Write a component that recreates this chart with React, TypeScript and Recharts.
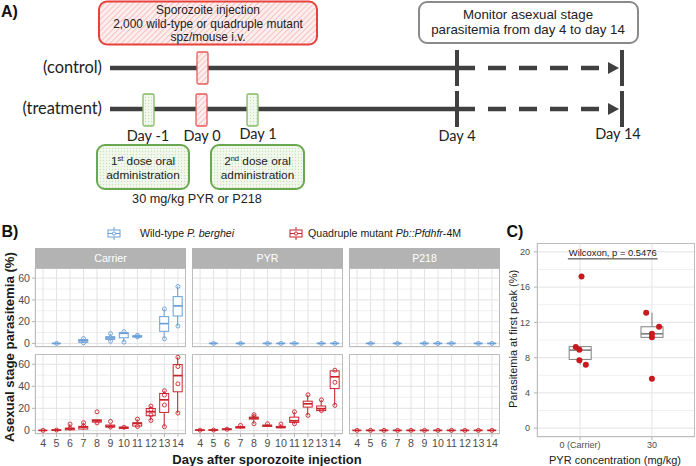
import React from 'react';
import { ComposedChart, Bar, Scatter, XAxis, YAxis, CartesianGrid, ReferenceLine } from 'recharts';

// ---- panel B data ----
const DAYS = [4, 5, 6, 7, 8, 9, 10, 11, 12, 13, 14];
const FACETS = ['Carrier', 'PYR', 'P218'];
const B_TICKS = [0, 20, 40, 60];
const B_MINOR = [10, 30, 50];

// box stats per day: [min, q1, median, q3, max], null = no box drawn
const carrierWT = [null, [0, 0, 0, 0, 0], null, [0.5, 1, 2.5, 3.5, 4.5], null, [2, 3.7, 5, 6.2, 9], [1.2, 5.2, 9.3, 9.8, 10.8], [5.5, 5.8, 6.5, 7, 7.5], null, [4.3, 11.1, 18.2, 24.6, 31.7], [16, 25.2, 34.5, 43, 52.3]];
const carrierWTPts = [[5, 0], [7, 4.5], [7, 0.5], [9, 9], [9, 2], [10, 10.8], [10, 1.2], [11, 7.5], [11, 6], [13, 31.7], [13, 4.3], [14, 52.3], [14, 16]];

const carrierMut = [[0, 0, 0, 0, 0.3], [0, 0, 0.3, 0.5, 0.8], [0.3, 0.5, 1.5, 2, 5.7], [0.5, 1.2, 3, 3.6, 7], [6.5, 7.5, 8.7, 9.6, 9.8], [2.5, 3, 3.6, 4.8, 5], [1.5, 1.8, 2.4, 3, 3.2], [3, 3.9, 6.3, 6.9, 10.2], [9, 13.3, 16.9, 19.9, 22], [3.3, 16.3, 27.7, 33.5, 36], [15.7, 35, 49.7, 59.7, 66.3]];
const carrierMutPts = [[4, 0], [5, 0.3], [6, 5.7], [6, 2], [7, 7], [7, 4], [8, 16.9], [8, 6.8], [9, 8.1], [9, 3], [10, 2.8], [11, 10.2], [11, 3.5], [12, 22], [12, 19], [12, 14], [12, 9], [13, 36], [13, 32], [13, 23], [13, 3.3], [14, 66.3], [14, 57.9], [14, 42.2], [14, 15.7]];

const pyrWT = [null, [0, 0, 0, 0, 0], null, [0, 0, 0, 0, 0], null, [0, 0, 0, 0, 0], [0, 0, 0, 0, 0], [0, 0, 0, 0, 0], null, [0, 0, 0, 0, 0], [0, 0, 0, 0, 0]];
const pyrWTPts = [[5, 0], [7, 0], [9, 0], [10, 0], [11, 0], [13, 0], [14, 0]];

const pyrMut = [[0, 0, 0.2, 0.3, 0.5], [0, 0.1, 0.3, 0.5, 0.7], [0.4, 0.7, 1, 1.3, 1.8], [1.5, 2.2, 2.7, 3.4, 4.5], [6, 10.2, 11.2, 12, 14.2], [3, 3.6, 4.2, 4.8, 6], [2, 2.4, 2.7, 3.6, 5.7], [5.7, 7.2, 8.7, 12, 16.9], [13.6, 21.1, 24.1, 26.5, 32.3], [17.5, 17.9, 19.7, 22.1, 27.7], [22.7, 37.9, 48.6, 54, 54.6]];
const pyrMutPts = [[4, 0.2], [5, 0.3], [6, 1], [7, 4.5], [8, 14.2], [8, 12.5], [8, 6], [9, 6], [10, 5.7], [11, 16.9], [11, 6], [12, 32.3], [12, 13.6], [13, 27.7], [13, 18], [14, 54.6], [14, 43.6], [14, 22.7]];

const p218WT = [null, [0, 0, 0, 0, 0], null, [0, 0, 0, 0, 0], null, [0, 0, 0, 0, 0], [0, 0, 0, 0, 0], [0, 0, 0, 0, 0], null, [0, 0, 0, 0, 0], [0, 0, 0, 0, 0]];
const p218WTPts = [[5, 0], [7, 0], [9, 0], [10, 0], [11, 0], [13, 0], [14, 0]];

const p218Mut = [[0, 0, 0, 0, 0], [0, 0, 0, 0, 0], [0, 0, 0, 0, 0], [0, 0, 0, 0, 0], [0, 0, 0, 0, 0], [0, 0, 0, 0, 0], [0, 0, 0, 0, 0], [0, 0, 0, 0, 0], [0, 0, 0, 0, 0], [0, 0, 0, 0, 0], [0, 0, 0, 0, 0]];
const p218MutPts = [[4, 0], [5, 0], [6, 0], [7, 0], [8, 0], [9, 0], [10, 0], [11, 0], [12, 0], [13, 0], [14, 0]];

// ---- panel C data ----
const C_GROUPS = ['0 (Carrier)', '30'];
const C_TICKS = [0, 4, 8, 12, 16, 20];
const C_MINOR = [2, 6, 10, 14, 18];
const cBoxes = [[7.2, 7.8, 8.85, 9.25, 9.25], [10.3, 10.3, 10.7, 11.5, 13.1]];
const carrierPeak = [17.2, 9.2, 8.9, 7.7, 7.2];
const carrierJitter = [0.02, -0.06, -0.01, -0.01, 0.08];
const pyr30Peak = [13.1, 11.5, 10.7, 10.3, 5.6];
const pyr30Jitter = [-0.08, 0.1, 0, 0, 0];

const BLUE = '#6a9fd8';
const RED = '#c8232b';
const ARIAL = '"Liberation Sans", Arial, sans-serif';
const CAL = 'Lato, "Open Sans", sans-serif';
const PANEL_W = 151;
const COL_LEFT = [35, 192, 349];

const boxRange = (r: any) => (r && r.s ? [r.s[0], r.s[4]] : null);

const boxShape = (color: string, medW: number) => (p: any) => {
  const s: number[] | undefined = p?.payload?.s;
  if (!s || p.x == null || p.y == null) return <g />;
  const [mn, q1, md, q3, mx] = s;
  const hh = p.height || 0;
  const top = Math.min(p.y, p.y + hh);
  const h = Math.abs(hh);
  const span = mx - mn;
  const py = (v: number) => (span > 0 ? top + (h * (mx - v)) / span : top);
  const cx = p.x + p.width / 2;
  return (
    <g>
      <line x1={cx} x2={cx} y1={py(mx)} y2={py(q3)} stroke={color} />
      <line x1={cx} x2={cx} y1={py(q1)} y2={py(mn)} stroke={color} />
      <rect x={p.x} y={py(q3)} width={p.width} height={Math.max(py(q1) - py(q3), 0)} fill="#fff" stroke={color} />
      <line x1={p.x} x2={p.x + p.width} y1={py(md)} y2={py(md)} stroke={color} strokeWidth={medW} />
    </g>
  );
};

const ringShape = (color: string) => (p: any) => (
  <circle cx={p.cx} cy={p.cy} r={2} fill="none" stroke={color} strokeWidth={0.9} />
);
const dotShape = (color: string) => (p: any) => <circle cx={p.cx} cy={p.cy} r={3} fill={color} />;

function Txt({ x, y, children, size = 11, bold = false, color = '#1a1a1a', rotate = false, anchor = 'middle', family = ARIAL }: any) {
  const tx = anchor === 'middle' ? '-50%' : anchor === 'end' ? '-100%' : '0';
  return (
    <div
      style={{
        position: 'absolute', left: x, top: y, whiteSpace: 'nowrap', lineHeight: 1,
        transform: `translate(${tx}, -50%)${rotate ? ' rotate(-90deg)' : ''}`,
        fontSize: size, fontWeight: bold ? 'bold' : 'normal', color, fontFamily: family,
      }}
    >
      {children}
    </div>
  );
}

function Facet({ stats, pts, color, left, top, h, showY, showX }: any) {
  const rows = DAYS.map((day, i) => ({ day, s: stats[i] })).filter((r) => r.s);
  const dots = pts.map(([day, v]: number[]) => ({ day, v }));
  const yW = showY ? 35 : 0;
  const xH = showX ? 22 : 0;
  const padB = showX ? 0 : 6; // room so the bottom tick label is not clipped
  return (
    <div style={{ position: 'absolute', left: left - yW, top }}>
      <ComposedChart width={PANEL_W + yW} height={h + xH + padB} data={rows} margin={{ top: 0, right: 0, bottom: padB, left: 0 }}>
        <CartesianGrid horizontalValues={B_MINOR} vertical={false} stroke="#f0f0f0" />
        <CartesianGrid stroke="#e3e3e3" />
        <XAxis type="number" dataKey="day" domain={[3.4, 14.6]} ticks={DAYS} interval={0} hide={!showX} height={xH}
          tickSize={3} tickMargin={2} axisLine={false} tickLine={{ stroke: '#b3b3b3' }}
          tick={{ fill: '#4d4d4d', fontSize: 10.6, fontFamily: ARIAL }} />
        <YAxis type="number" domain={[-3.3, 69.3]} ticks={B_TICKS} interval={0} hide={!showY} width={yW}
          tickSize={3} tickMargin={2} axisLine={false} tickLine={{ stroke: '#b3b3b3' }}
          tick={{ fill: '#4d4d4d', fontSize: 10.6, fontFamily: ARIAL }} />
        <Bar dataKey={boxRange} barSize={9} shape={boxShape(color, 1.7)} isAnimationActive={false} />
        <Scatter data={dots} dataKey="v" shape={ringShape(color)} isAnimationActive={false} />
      </ComposedChart>
      <div style={{ position: 'absolute', left: yW, top: 0, width: PANEL_W, height: h, border: '1px solid #bdbdbd', boxSizing: 'border-box', pointerEvents: 'none' }} />
    </div>
  );
}

function Glyph({ color, left }: any) {
  return (
    <svg width={14} height={13} style={{ position: 'absolute', left, top: 227 }}>
      <line x1={7} x2={7} y1={0} y2={13} stroke={color} />
      <rect x={1} y={3} width={12} height={7} fill="#fff" stroke={color} />
      <line x1={1} x2={13} y1={6.5} y2={6.5} stroke={color} />
      <circle cx={7} cy={6.5} r={1.6} fill="#fff" stroke={color} />
    </svg>
  );
}

function PanelA() {
  const dark = '#404040';
  const small = [
    { x: 197, y: 52, c: 'r' },
    { x: 143, y: 94, c: 'g' },
    { x: 196, y: 94, c: 'r' },
    { x: 247, y: 94, c: 'g' },
  ];
  return (
    <svg width={696} height={215} style={{ position: 'absolute', left: 0, top: 0 }} fontFamily={ARIAL} fill="#222">
      <defs>
        <pattern id="hatchR" width="4" height="4" patternUnits="userSpaceOnUse" patternTransform="rotate(45)">
          <rect width="4" height="4" fill="#fdeeee" />
          <line x1="0" y1="0" x2="0" y2="4" stroke="#f4b7b7" strokeWidth="1.6" />
        </pattern>
        <pattern id="dotG" width="3" height="3" patternUnits="userSpaceOnUse">
          <rect width="3" height="3" fill="#f2f8ee" />
          <circle cx="1.5" cy="1.5" r="0.7" fill="#c9e2b8" />
        </pattern>
      </defs>
      <text x={1} y={17} fontSize={16} fontWeight="bold" fill="#111">A)</text>

      <rect x={99} y={1.5} width={218} height={43} rx={8} fill="url(#hatchR)" stroke="#e8403a" strokeWidth={2} />
      <text textAnchor="middle" fontSize={11.9}>
        <tspan x={208} y={13.5}>Sporozoite injection</tspan>
        <tspan x={208} y={27.5}>2,000 wild-type or quadruple mutant</tspan>
        <tspan x={208} y={41}>spz/mouse i.v.</tspan>
      </text>

      <rect x={419} y={2} width={219} height={41} rx={8} fill="#fff" stroke="#8a8a8a" strokeWidth={2} />
      <text textAnchor="middle" fontSize={13.3}>
        <tspan x={528} y={18.5}>Monitor asexual stage</tspan>
        <tspan x={528} y={34}>parasitemia from day 4 to day 14</tspan>
      </text>

      <text x={102} y={73} textAnchor="end" fontSize={16.4} fontFamily={CAL}>(control)</text>
      <text x={102} y={114} textAnchor="end" fontSize={16.4} fontFamily={CAL}>(treatment)</text>

      {[68, 109].map((y) => (
        <g key={y}>
          <line x1={110} x2={475} y1={y} y2={y} stroke={dark} strokeWidth={4.5} />
          <line x1={488} x2={600} y1={y} y2={y} stroke={dark} strokeWidth={4.5} strokeDasharray="18 13" />
          <polygon points={`608,${y - 6} 608,${y + 6} 619,${y}`} fill={dark} />
          <line x1={457} x2={457} y1={y - 18} y2={y + 18} stroke={dark} strokeWidth={4} />
          <line x1={622} x2={622} y1={y - 18} y2={y + 18} stroke={dark} strokeWidth={4} />
        </g>
      ))}

      {small.map((r, i) => (
        <rect key={i} x={r.x} y={r.y} width={11} height={32} rx={1.5}
          fill={r.c === 'r' ? 'url(#hatchR)' : 'url(#dotG)'} stroke={r.c === 'r' ? '#e85a5a' : '#86bb62'} strokeWidth={1.3} />
      ))}

      <g fontFamily={CAL} fontSize={14.5} textAnchor="middle">
        <text x={148} y={141}>Day -1</text>
        <text x={202} y={141}>Day 0</text>
        <text x={258} y={139}>Day 1</text>
        <text x={457} y={141}>Day 4</text>
        <text x={618} y={139}>Day 14</text>
      </g>

      <rect x={97} y={145} width={92} height={44} rx={8} fill="url(#dotG)" stroke="#6aa84f" strokeWidth={2} />
      <rect x={211} y={145} width={93} height={44} rx={8} fill="url(#dotG)" stroke="#6aa84f" strokeWidth={2} />
      <text textAnchor="middle" fontSize={11.8}>
        <tspan x={143} y={164.5}>1<tspan fontSize={7.5} dy={-4}>st</tspan><tspan dy={4}> dose oral</tspan></tspan>
        <tspan x={143} y={178.5}>administration</tspan>
        <tspan x={257.5} y={164.5}>2<tspan fontSize={7.5} dy={-4}>nd</tspan><tspan dy={4}> dose oral</tspan></tspan>
        <tspan x={257.5} y={178.5}>administration</tspan>
      </text>
      <text x={197} y={203} textAnchor="middle" fontSize={12.7}>30 mg/kg PYR or P218</text>
    </svg>
  );
}

function PanelB() {
  const sets = [
    [carrierWT, carrierWTPts, carrierMut, carrierMutPts],
    [pyrWT, pyrWTPts, pyrMut, pyrMutPts],
    [p218WT, p218WTPts, p218Mut, p218MutPts],
  ];
  return (
    <>
      <Txt x={10} y={232} size={16} bold color="#111">B)</Txt>
      <Glyph color={BLUE} left={107} />
      <Txt x={140} y={233} anchor="start" size={10.6}>Wild-type <i>P. berghei</i></Txt>
      <Glyph color={RED} left={289} />
      <Txt x={308} y={233} anchor="start" size={10.6}>Quadruple mutant <i>Pb::Pfdhfr</i>-4M</Txt>

      {FACETS.map((f, i) => (
        <div key={f} style={{ position: 'absolute', left: COL_LEFT[i], top: 248, width: PANEL_W, height: 20, background: '#b3b3b3', color: '#fff', fontSize: 10.6, fontFamily: ARIAL, display: 'flex', alignItems: 'center', justifyContent: 'center' }}>
          {f}
        </div>
      ))}
      {sets.map((s, i) => (
        <React.Fragment key={i}>
          <Facet stats={s[0]} pts={s[1]} color={BLUE} left={COL_LEFT[i]} top={268} h={79} showY={i === 0} showX={false} />
          <Facet stats={s[2]} pts={s[3]} color={RED} left={COL_LEFT[i]} top={354} h={80} showY={i === 0} showX={true} />
        </React.Fragment>
      ))}
      <Txt x={10} y={347} size={13.2} bold rotate>Asexual stage parasitemia (%)</Txt>
      <Txt x={267} y={458.5} size={13} bold>Days after sporozoite injection</Txt>
    </>
  );
}

function PanelC() {
  const rows = cBoxes.map((s, i) => ({ g: i + 1, s }));
  const dots = [
    ...carrierPeak.map((v, i) => ({ g: 1 + carrierJitter[i], v })),
    ...pyr30Peak.map((v, i) => ({ g: 2 + pyr30Jitter[i], v })),
  ];
  return (
    <>
      <Txt x={515} y={232} size={16} bold color="#111">C)</Txt>
      <div style={{ position: 'absolute', left: 502, top: 243 }}>
        <ComposedChart width={193} height={208} data={rows} margin={{ top: 0, right: 0, bottom: 0, left: 0 }}>
          <CartesianGrid horizontalValues={C_MINOR} vertical={false} stroke="#f0f0f0" />
          <CartesianGrid stroke="#e3e3e3" />
          <XAxis type="number" dataKey="g" domain={[0.4, 2.6]} ticks={[1, 2]} interval={0} height={14}
            tickFormatter={(v: number) => C_GROUPS[Math.round(v) - 1] ?? ''} tickSize={3} tickMargin={2} axisLine={false}
            tickLine={{ stroke: '#b3b3b3' }} tick={{ fill: '#4d4d4d', fontSize: 9, fontFamily: ARIAL }} />
          {/* separate hidden axis for the jittered points so they don't shrink the box width */}
          <XAxis xAxisId="jit" type="number" dataKey="g" domain={[0.4, 2.6]} hide />
          <YAxis type="number" domain={[-1, 21]} ticks={C_TICKS} interval={0} width={35}
            tickSize={3} tickMargin={4} axisLine={false} tickLine={{ stroke: '#b3b3b3' }}
            tick={{ fill: '#4d4d4d', fontSize: 9, fontFamily: ARIAL }} />
          <Bar dataKey={boxRange} barSize={22} shape={boxShape('#7f7f7f', 1.6)} isAnimationActive={false} />
          <Scatter xAxisId="jit" data={dots} dataKey="v" shape={dotShape('#c8191f')} isAnimationActive={false} />
          <ReferenceLine segment={[{ x: 0.83, y: 19.2 }, { x: 2.08, y: 19.2 }]} stroke="#333"
            label={{ value: 'Wilcoxon, p = 0.5476', position: 'top', offset: 3, fontSize: 9.4, fill: '#222', fontFamily: ARIAL }} />
        </ComposedChart>
        <div style={{ position: 'absolute', left: 35, top: 0, width: 158, height: 194, border: '1px solid #bdbdbd', boxSizing: 'border-box', pointerEvents: 'none' }} />
      </div>
      <Txt x={512.5} y={339} size={11} rotate>Parasitemia at first peak (%)</Txt>
      <Txt x={615} y={459.5} size={11}>PYR concentration (mg/kg)</Txt>
    </>
  );
}

export default function App() {
  return (
    <div style={{ position: 'absolute', left: 0, top: 0, width: 696, height: 466, background: '#fff', overflow: 'hidden', fontFamily: ARIAL, color: '#1a1a1a' }}>
      <PanelA />
      <PanelB />
      <PanelC />
    </div>
  );
}
